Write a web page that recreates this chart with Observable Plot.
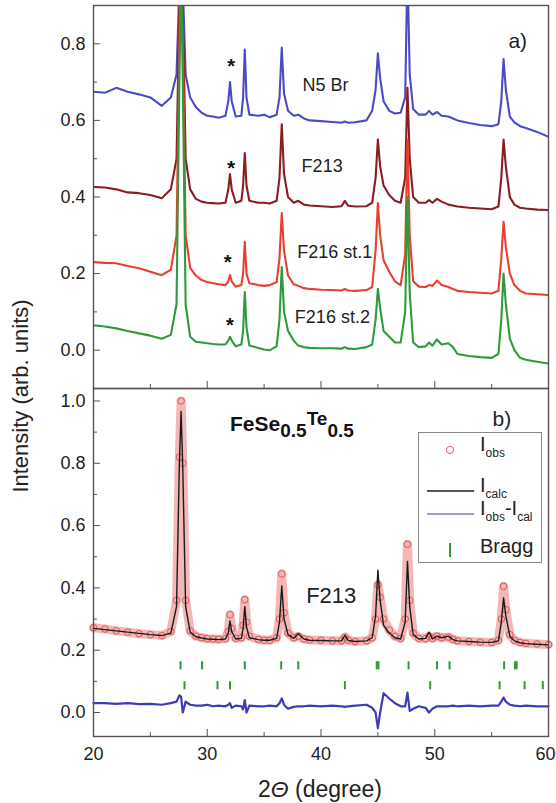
<!DOCTYPE html>
<html><head><meta charset="utf-8">
<script src="https://cdn.jsdelivr.net/npm/d3@7"></script>
<script src="https://cdn.jsdelivr.net/npm/@observablehq/plot@0.6"></script>
<style>
body{margin:0;background:#fff;font-family:"Liberation Sans",Arial,sans-serif;color:#222}
#wrap{position:relative;width:556px;height:803px;overflow:hidden}
#wrap svg{position:absolute;left:0;overflow:visible;background:transparent}
#legend{position:absolute;left:418px;top:432px;width:124px;height:131px;border:1.3px solid #888;background:#fff;box-sizing:border-box}
#legend svg{position:absolute;left:-1.3px;top:-1.3px}
</style></head><body>
<div id="wrap"></div>
<script>
// 2θ sampling positions (degree)
const twoTheta = [20,21,22,23,24,25,26,26.8,27.3,27.55,
 27.7,27.85,28.1,28.5,29,29.5,30,30.5,31,31.6,
 31.85,32.0,32.15,32.5,33.0,33.15,33.3,33.45,33.7,34.5,
 35,35.5,36.1,36.35,36.55,36.75,37.1,37.6,38.0,38.5,
 39,40,41,41.8,42.1,42.4,43,44,44.5,44.8,
 45.0,45.2,45.5,46.0,46.5,47.0,47.4,47.6,47.8,48.1,
 48.6,49.2,49.5,49.8,50.2,50.6,51.2,51.6,52,53,
 54,55,55.6,55.85,56.05,56.25,56.6,57,57.5,58,
 59,60];

// panel a) series (offset intensities)
const n5Br = [0.675,0.672,0.685,0.675,0.668,0.66,0.638,0.66,0.72,0.95,
 1.3,0.95,0.72,0.66,0.635,0.62,0.612,0.61,0.607,0.612,
 0.65,0.70,0.65,0.61,0.612,0.66,0.785,0.66,0.615,0.612,
 0.615,0.608,0.615,0.66,0.79,0.67,0.625,0.612,0.615,0.605,
 0.60,0.598,0.596,0.594,0.597,0.594,0.595,0.60,0.625,0.68,
 0.775,0.71,0.65,0.625,0.618,0.62,0.66,1.0,0.72,0.63,
 0.615,0.615,0.625,0.615,0.622,0.612,0.61,0.605,0.60,0.593,
 0.588,0.585,0.59,0.65,0.76,0.68,0.61,0.595,0.585,0.58,
 0.57,0.557];
const f213 = [0.426,0.425,0.42,0.412,0.41,0.405,0.397,0.42,0.5,0.9,
 1.14,0.9,0.5,0.42,0.395,0.388,0.385,0.384,0.383,0.385,
 0.42,0.46,0.42,0.385,0.39,0.43,0.515,0.43,0.39,0.385,
 0.385,0.383,0.39,0.45,0.59,0.46,0.40,0.385,0.39,0.38,
 0.378,0.376,0.374,0.376,0.39,0.377,0.375,0.376,0.385,0.45,
 0.55,0.48,0.43,0.405,0.39,0.385,0.45,0.685,0.5,0.40,
 0.385,0.385,0.392,0.385,0.395,0.388,0.38,0.378,0.375,0.372,
 0.37,0.368,0.375,0.45,0.55,0.48,0.40,0.38,0.372,0.37,
 0.367,0.366];
const f216st1 = [0.23,0.228,0.227,0.22,0.214,0.205,0.196,0.21,0.30,0.8,
 1.1,0.8,0.30,0.215,0.195,0.183,0.178,0.175,0.172,0.17,
 0.18,0.196,0.18,0.166,0.17,0.20,0.283,0.20,0.175,0.17,
 0.168,0.17,0.178,0.24,0.358,0.26,0.195,0.172,0.168,0.162,
 0.16,0.158,0.157,0.156,0.16,0.156,0.155,0.157,0.165,0.26,
 0.384,0.30,0.235,0.205,0.18,0.17,0.25,0.55,0.30,0.18,
 0.166,0.165,0.17,0.168,0.182,0.17,0.165,0.16,0.155,0.152,
 0.15,0.148,0.155,0.24,0.335,0.27,0.20,0.17,0.155,0.148,
 0.146,0.144];
const f216st2 = [0.065,0.062,0.057,0.05,0.044,0.038,0.03,0.04,0.12,0.7,
 1.0,0.7,0.12,0.035,0.022,0.02,0.018,0.016,0.015,0.015,
 0.025,0.035,0.025,0.01,0.015,0.05,0.152,0.06,0.012,0.006,
 0.002,0.0,0.01,0.08,0.217,0.10,0.05,0.025,0.012,0.008,
 0.006,0.005,0.005,0.004,0.008,0.004,0.003,0.008,0.015,0.08,
 0.16,0.11,0.05,0.035,0.02,0.02,0.10,0.40,0.15,0.02,
 0.008,0.01,0.02,0.012,0.028,0.015,0.018,0.008,-0.01,-0.015,
 -0.018,-0.02,-0.01,0.08,0.20,0.12,0.03,0.0,-0.02,-0.025,
 -0.03,-0.035];

// panel b) Rietveld fit of F213
const iObs = [0.272,0.268,0.262,0.258,0.253,0.25,0.247,0.26,0.36,0.82,
 1.0,0.80,0.36,0.262,0.245,0.24,0.237,0.236,0.235,0.237,
 0.26,0.314,0.27,0.238,0.24,0.28,0.362,0.29,0.245,0.235,
 0.232,0.232,0.24,0.30,0.445,0.32,0.255,0.24,0.245,0.236,
 0.233,0.232,0.23,0.23,0.242,0.232,0.228,0.23,0.24,0.30,
 0.41,0.37,0.30,0.265,0.245,0.238,0.30,0.54,0.36,0.255,
 0.238,0.237,0.245,0.238,0.245,0.24,0.242,0.235,0.23,0.228,
 0.226,0.225,0.232,0.30,0.405,0.33,0.25,0.232,0.225,0.222,
 0.22,0.218];
const iCalc = [0.27,0.266,0.262,0.258,0.254,0.25,0.247,0.255,0.34,0.80,
 0.966,0.78,0.34,0.258,0.243,0.239,0.236,0.235,0.234,0.236,
 0.255,0.294,0.26,0.236,0.238,0.27,0.34,0.275,0.24,0.234,
 0.232,0.232,0.238,0.29,0.406,0.30,0.25,0.238,0.253,0.236,
 0.232,0.231,0.23,0.23,0.248,0.231,0.228,0.23,0.24,0.31,
 0.457,0.36,0.28,0.255,0.24,0.236,0.29,0.485,0.34,0.25,
 0.236,0.238,0.258,0.236,0.245,0.24,0.245,0.234,0.23,0.228,
 0.226,0.225,0.23,0.29,0.368,0.31,0.245,0.23,0.224,0.221,
 0.219,0.217];
const iDiff = [0.03,0.03,0.028,0.03,0.027,0.028,0.025,0.03,0.035,0.055,
 0.05,0.0,0.035,0.025,0.022,0.022,0.025,0.02,0.022,0.02,
 0.025,0.03,0.015,0.022,0.02,0.01,0.04,0.0,0.022,0.02,
 0.02,0.022,0.02,0.03,0.045,0.025,0.012,0.018,0.02,0.02,
 0.022,0.02,0.022,0.02,0.018,0.02,0.022,0.025,0.015,0.0,
 -0.05,0.0,0.062,0.045,0.03,0.02,0.02,0.064,0.005,0.012,
 0.02,0.015,0.0,0.012,0.02,0.02,0.02,0.022,0.02,0.022,
 0.02,0.022,0.022,0.035,0.048,0.035,0.025,0.022,0.02,0.022,
 0.02,0.02];

// Bragg reflection positions (two phases) and the levels of their tick rows
const braggPhase1 = [27.65,29.55,33.3,36.5,38.0,44.9,45.05,47.7,50.2,51.3,56.1,57.05,57.2];
const braggPhase2 = [28.0,30.9,32.0,42.1,49.6,55.7,57.9,59.5];
const braggLevels = [0.15, 0.086];

// annotations
const seriesNames = ["N5 Br","F213","F216 st.1","F216 st.2"];
const seriesLabelX = [40.4,40.1,41.2,41.0];
const seriesLabelY = [0.693,0.481,0.256,0.086];
const starX = [32.1,32.1,31.8,32.0];
const starY = [0.753,0.486,0.243,0.076];

// ticks
const xMajor = [20,30,40,50,60];
const xMinor = [25,35,45,55];
const xLabelsInner = [20,30,40,50];
const xLabelsEdge = [60];
const yMajorA = [0,0.2,0.4,0.6,0.8];
const yMinorA = [-0.1,0.1,0.3,0.5,0.7];
const yMajorB = [0,0.2,0.4,0.6,0.8,1.0];
const yMinorB = [0.1,0.3,0.5,0.7,0.9];

const FONT = '"Liberation Sans", Arial, sans-serif';
const colors = ["#4b4bc4","#8a1c22","#e8402e","#2f9a3b"];
const seriesA = [n5Br, f213, f216st1, f216st2];
const frameColor = "#555";
const TICKFONT = 18;

const wrap = document.getElementById("wrap");
const fmt = d3.format(".1f");
const blank = () => "";

function yAxes(major, minor) {
  return [
    Plot.axisY(major, {tickSize: -7, tickPadding: 15, tickFormat: fmt, fontSize: TICKFONT, label: null, stroke: frameColor}),
    Plot.axisY(minor, {tickSize: -4, tickFormat: blank, label: null, stroke: frameColor})
  ];
}

// ---------- panel a ----------
const pa = Plot.plot({
  width: 556, height: 390,
  marginLeft: 93, marginRight: 8, marginTop: 5, marginBottom: 2,
  style: {fontFamily: FONT, fontSize: "17px", color: "#222", background: "transparent"},
  x: {domain: [20, 60]},
  y: {domain: [-0.1, 0.9]},
  marks: [
    ...seriesA.map((s, k) => Plot.line(twoTheta, {x: d => d, y: (d, i) => s[i], stroke: colors[k], strokeWidth: 2.1, clip: true})),
    ...yAxes(yMajorA, yMinorA),
    Plot.axisX(xMajor, {anchor: "bottom", tickSize: -7, tickFormat: blank, label: null, stroke: frameColor}),
    Plot.axisX(xMinor, {anchor: "bottom", tickSize: -4, tickFormat: blank, label: null, stroke: frameColor}),
    Plot.text(seriesNames, {x: (d, i) => seriesLabelX[i], y: (d, i) => seriesLabelY[i], text: d => d, fontSize: 18, fill: "#222"}),
    Plot.text(starX, {x: d => d, y: (d, i) => starY[i], text: () => "*", fontSize: 20, fontWeight: "bold", dy: 5, fill: "#111"}),
    Plot.text(["a)"], {x: 57.3, y: 0.806, text: d => d, fontSize: 21, fill: "#222"}),
    Plot.frame({stroke: frameColor, strokeWidth: 1.4})
  ]
});
pa.style.top = "0px";
wrap.appendChild(pa);

// ---------- panel b ----------
const formula = "FeSe0.5Te0.5";
const pb = Plot.plot({
  width: 556, height: 417,
  marginLeft: 93, marginRight: 8, marginTop: 2, marginBottom: 67,
  style: {fontFamily: FONT, fontSize: "17px", color: "#222", background: "transparent"},
  x: {domain: [20, 60]},
  y: {domain: [-0.077, 1.04]},
  marks: [
    Plot.line(twoTheta, {x: d => d, y: (d, i) => iObs[i], stroke: "#e87070", strokeWidth: 9, strokeOpacity: 0.5}),
    Plot.dot(twoTheta, {x: d => d, y: (d, i) => iObs[i], r: 3.3, stroke: "#e05555", strokeWidth: 1, fill: "none"}),
    Plot.line(twoTheta, {x: d => d, y: (d, i) => iCalc[i], stroke: "#1a1a1a", strokeWidth: 1.4}),
    Plot.line(twoTheta, {x: d => d, y: (d, i) => iDiff[i], stroke: "#3c3cb4", strokeWidth: 2.2}),
    Plot.ruleX(braggPhase1, {x: d => d, y1: braggLevels[0] - 0.013, y2: braggLevels[0] + 0.013, stroke: "#2e9a3a", strokeWidth: 2}),
    Plot.ruleX(braggPhase2, {x: d => d, y1: braggLevels[1] - 0.013, y2: braggLevels[1] + 0.013, stroke: "#2e9a3a", strokeWidth: 2}),
    ...yAxes(yMajorB, yMinorB),
    Plot.axisX(xMajor, {anchor: "bottom", tickSize: -7, tickFormat: blank, label: null, stroke: frameColor}),
    Plot.axisX(xMinor, {anchor: "bottom", tickSize: -4, tickFormat: blank, label: null, stroke: frameColor}),
    Plot.axisX(xLabelsInner, {anchor: "bottom", tickSize: 0, tickPadding: 11, fontSize: TICKFONT, label: null}),
    Plot.axisX(xLabelsEdge, {anchor: "bottom", tickSize: 0, tickPadding: 11, fontSize: TICKFONT, label: null, dx: -3}),
    Plot.text(["F213"], {x: 40.9, y: 0.374, text: d => d, fontSize: 22, fill: "#222"}),
    Plot.text(["b)"], {x: 55.9, y: 0.94, text: d => d, fontSize: 21, fill: "#222"}),
    Plot.text([formula], {x: 32.0, y: 0.925, text: d => d, textAnchor: "start", fontSize: 20, fontWeight: "bold", fill: "#111"}),
    Plot.frame({stroke: frameColor, strokeWidth: 1.4})
  ]
});
pb.style.top = "386px";
wrap.appendChild(pb);

// typeset the chemical formula with subscripts
d3.select(pb).selectAll("text").filter(function() { return this.textContent === formula; }).each(function() {
  const t = d3.select(this);
  t.text(null);
  t.append("tspan").attr("font-size", 21).text("FeSe");
  t.append("tspan").attr("font-size", 19).attr("dy", 6).text("0.5");
  t.append("tspan").attr("font-size", 19).attr("dy", -12).text("Te");
  t.append("tspan").attr("font-size", 19).attr("dy", 12).text("0.5");
});

// legend (built with d3 inside a bordered box)
const leg = document.createElement("div");
leg.id = "legend";
wrap.appendChild(leg);
const ls = d3.select(leg).append("svg").attr("width", 124).attr("height", 131)
  .style("font-family", FONT).style("fill", "#222");
function subLabel(y, parts) {
  const t = ls.append("text").attr("x", 62).attr("y", y).attr("font-size", 20);
  parts.forEach(([s, sub]) => {
    if (sub) t.append("tspan").attr("font-size", 12).attr("dy", 6).text(s);
    else t.append("tspan").attr("dy", t.selectAll("tspan").size() ? -6 : 0).text(s);
  });
}
ls.append("circle").attr("cx", 32).attr("cy", 18).attr("r", 3.6).attr("fill", "none").attr("stroke", "#e06060");
subLabel(25, [["I"], ["obs", true]]);
ls.append("line").attr("x1", 9).attr("x2", 56).attr("y1", 59).attr("y2", 59).attr("stroke", "#555").attr("stroke-width", 1.8);
subLabel(66, [["I"], ["calc", true]]);
ls.append("line").attr("x1", 9).attr("x2", 56).attr("y1", 82).attr("y2", 82).attr("stroke", "#7a7ad6").attr("stroke-width", 1.4);
subLabel(89, [["I"], ["obs", true], ["-I"], ["cal", true]]);
ls.append("line").attr("x1", 32).attr("x2", 32).attr("y1", 111).attr("y2", 125).attr("stroke", "#2e9a3a").attr("stroke-width", 2);
ls.append("text").attr("x", 62).attr("y", 121).attr("font-size", 20).text("Bragg");

// axis titles
const ov = d3.create("svg").attr("width", 556).attr("height", 803).style("top", "0px")
  .style("font-family", FONT).style("fill", "#222");
ov.append("text").attr("transform", "translate(28,396) rotate(-90)").attr("text-anchor", "middle")
  .attr("font-size", 22).text("Intensity (arb. units)");
const xt = ov.append("text").attr("x", 320).attr("y", 797).attr("text-anchor", "middle").attr("font-size", 23);
xt.append("tspan").text("2");
xt.append("tspan").attr("font-style", "italic").text("\u0398");
xt.append("tspan").text(" (degree)");
wrap.appendChild(ov.node());
</script>
</body></html>
